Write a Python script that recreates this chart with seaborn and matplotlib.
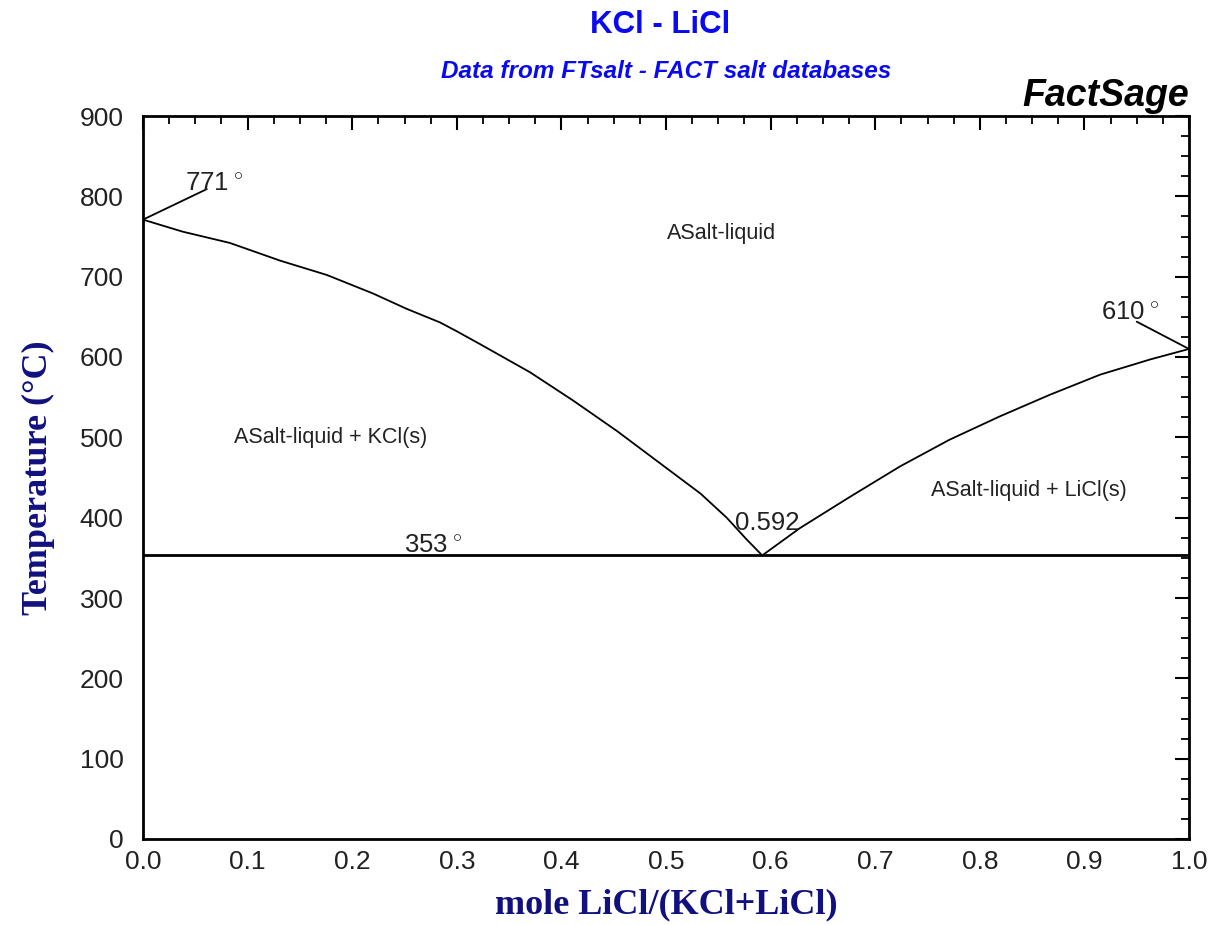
import numpy as np
import pandas as pd
import matplotlib
matplotlib.use("Agg")
import matplotlib.pyplot as plt
import seaborn as sns
from matplotlib.ticker import MultipleLocator

# ---------------- data ----------------
# KCl-side liquidus (x = mole LiCl/(KCl+LiCl), T in deg C)
kcl_liquidus_x = [0.0, 0.038, 0.083, 0.131, 0.176, 0.22, 0.252, 0.284, 0.30, 0.325,
                  0.37, 0.411, 0.453, 0.494, 0.533, 0.558, 0.577, 0.592]
kcl_liquidus_T = [771, 756, 742, 720, 702, 679, 660, 643, 632, 614,
                  581, 546, 508, 468, 430, 400, 373, 353]

# LiCl-side liquidus
licl_liquidus_x = [0.592, 0.628, 0.676, 0.724, 0.771, 0.819, 0.867, 0.915, 0.963, 1.0]
licl_liquidus_T = [353, 387, 426, 464, 497, 526, 553, 578, 597, 610]

# eutectic line
eutectic_x = [0.0, 1.0]
eutectic_T = [353, 353]

# leader lines of the melting-point labels
leader_kcl_x = [0.0, 0.061]
leader_kcl_T = [771, 809]
leader_licl_x = [1.0, 0.95]
leader_licl_T = [610, 644]

# point labels
point_labels = ["771", "610", "353", "0.592"]
point_label_deg = [True, True, True, False]
point_label_x = [0.040, 0.916, 0.250, 0.566]
point_label_T = [808, 647, 357, 385]

# region labels
region_labels = ["ASalt-liquid", "ASalt-liquid + KCl(s)", "ASalt-liquid + LiCl(s)"]
region_label_x = [0.5535, 0.179, 0.847]
region_label_T = [754, 500, 434]

x_ticks = [0.0, 0.1, 0.2, 0.3, 0.4, 0.5, 0.6, 0.7, 0.8, 0.9, 1.0]
x_tick_labels = ["0.0", "0.1", "0.2", "0.3", "0.4", "0.5", "0.6", "0.7", "0.8", "0.9", "1.0"]
y_ticks = [0, 100, 200, 300, 400, 500, 600, 700, 800, 900]
y_tick_labels = ["0", "100", "200", "300", "400", "500", "600", "700", "800", "900"]

title = "KCl - LiCl"
subtitle = "Data from FTsalt - FACT salt databases"
brand = "FactSage"
x_label = "mole LiCl/(KCl+LiCl)"
y_label = "Temperature ($^{\\circ}$C)"

# ---------------- styling ----------------
sns.set_theme(style="white")
plt.rcParams["font.family"] = ["Liberation Sans", "DejaVu Sans"]
plt.rcParams["mathtext.fontset"] = "custom"
plt.rcParams["mathtext.rm"] = "Liberation Sans"
plt.rcParams["mathtext.it"] = "Liberation Sans:italic"
plt.rcParams["mathtext.bf"] = "Liberation Sans:bold"

W, H = 1209, 925
fig = plt.figure(figsize=(W / 100, H / 100), dpi=100)
fig.patch.set_facecolor("white")
left, right, top, bottom = 143, 1189, 116, 839
ax = fig.add_axes([left / W, (H - bottom) / H, (right - left) / W, (bottom - top) / H])
ax.set_facecolor("white")

line_kw = dict(color="black", linewidth=1.3, legend=False, ax=ax)
sns.lineplot(data=pd.DataFrame({"x": kcl_liquidus_x, "T": kcl_liquidus_T}), x="x", y="T", **line_kw)
sns.lineplot(data=pd.DataFrame({"x": licl_liquidus_x, "T": licl_liquidus_T}), x="x", y="T", **line_kw)
sns.lineplot(data=pd.DataFrame({"x": eutectic_x, "T": eutectic_T}), x="x", y="T",
             color="black", linewidth=2.0, legend=False, ax=ax)
sns.lineplot(data=pd.DataFrame({"x": leader_kcl_x, "T": leader_kcl_T}), x="x", y="T", **line_kw)
sns.lineplot(data=pd.DataFrame({"x": leader_licl_x, "T": leader_licl_T}), x="x", y="T",
             sort=False, **line_kw)

for lab, deg, lx, lt in zip(point_labels, point_label_deg, point_label_x, point_label_T):
    s = lab + ("$^{\\,\\circ}$" if deg else "")
    ax.text(lx, lt, s, ha="left", va="baseline", fontsize=18.5, color="#222222")

for lab, lx, lt in zip(region_labels, region_label_x, region_label_T):
    ax.text(lx, lt, lab, ha="center", va="center", fontsize=15.5, color="#222222")

ax.set_xlim(0, 1)
ax.set_ylim(0, 900)
ax.set_xticks(x_ticks)
ax.set_xticklabels(x_tick_labels)
ax.set_yticks(y_ticks)
ax.set_yticklabels(y_tick_labels)
ax.xaxis.set_minor_locator(MultipleLocator(0.025))
ax.yaxis.set_minor_locator(MultipleLocator(25))

ax.tick_params(which="both", direction="in", top=True, right=True, color="black")
ax.tick_params(which="major", length=10, width=1.5, labelsize=19, labelcolor="#222222")
ax.tick_params(axis="x", which="major", pad=8)
ax.tick_params(axis="y", which="major", pad=14)
ax.tick_params(which="minor", length=6, width=1.3)

for s in ax.spines.values():
    s.set_visible(True)
    s.set_color("black")
    s.set_linewidth(2)

serif = ["Liberation Serif", "DejaVu Serif"]
ax.set_xlabel(x_label, fontsize=26, fontweight="bold", color="#10107f",
              family=serif, labelpad=10)
ax.set_ylabel("Temperature (\u00b0C)", fontsize=26, fontweight="bold", color="#10107f",
              family=serif, labelpad=18)
ax.grid(False)

cx = (left + right) / 2 / W
fig.text(cx - 6 / W, 1 - 25 / H, title, ha="center", va="center", fontsize=22.5,
         fontweight="bold", color="#0a0af0")
fig.text(cx, 1 - 72 / H, subtitle, ha="center", va="center", fontsize=17.5,
         fontweight="bold", style="italic", color="#0a0af0")
fig.text(right / W, 1 - 106 / H, brand, ha="right", va="baseline", fontsize=27,
         fontweight="bold", style="italic", color="black")

fig.savefig("out.png", dpi=100, facecolor="white")
